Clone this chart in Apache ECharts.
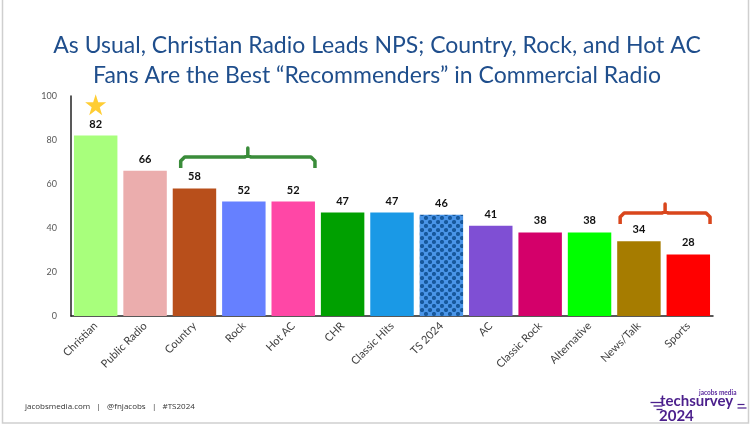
<!DOCTYPE html>
<html><head><meta charset="utf-8">
<script src="https://cdn.jsdelivr.net/npm/echarts@6/dist/echarts.min.js"></script>
<style>html,body{margin:0;padding:0;background:#fff}#c{width:754px;height:428px}</style>
</head><body><div id="c"></div>
<script>
const categories = ['Christian','Public Radio','Country','Rock','Hot AC','CHR','Classic Hits','TS 2024','AC','Classic Rock','Alternative','News/Talk','Sports'];
const npsValues = [82,66,58,52,52,47,47,46,41,38,38,34,28];
const barColors = ['#A8FF7C','#EBADAD','#B84F1B','#6680FF','#FF47A6','#00A000','#1A99E6',null,'#7F4FD4','#D4006A','#00FF00','#A67C00','#FF0000'];
const yTicks = {min:0, max:100, interval:20};
// brackets: [startCategory, endCategory, level value]
const brackets = [[2,4,72.3,'#3A8C3A'],[11,12,46.8,'#D9461C']];
const starPoint = [['Christian',96]];

const pat = document.createElement('canvas');
pat.width = 8; pat.height = 8;
const pc = pat.getContext('2d');
pc.fillStyle = '#4A95E8'; pc.fillRect(0,0,8,8);
pc.fillStyle = '#17589C';
pc.beginPath(); pc.arc(2,2,2.1,0,Math.PI*2); pc.fill();
pc.beginPath(); pc.arc(6,6,2.1,0,Math.PI*2); pc.fill();

const chart = echarts.init(document.getElementById('c'));
const starPath = 'path://M50,0 L61.8,35.4 L99,35.4 L69,57.3 L80.3,92.7 L50,70.8 L19.7,92.7 L31,57.3 L1,35.4 L38.2,35.4 Z';

chart.setOption({
  animation:false,
  textStyle:{fontFamily:'Lato, "Open Sans", sans-serif'},
  title:{
    text:'As Usual, Christian Radio Leads NPS; Country, Rock, and Hot AC\nFans Are the Best \u201cRecommenders\u201d in Commercial Radio',
    left:'center', top:26,
    textStyle:{color:'#1F4E8C', fontSize:23, fontWeight:'normal', lineHeight:30, fontFamily:'Lato, sans-serif'}
  },
  grid:{left:71, right:41, top:96, bottom:112},
  xAxis:{
    type:'category', data:categories,
    axisLine:{show:true, lineStyle:{color:'#222', width:1.5}},
    axisTick:{show:false},
    axisLabel:{rotate:45, fontSize:11, color:'#404040', margin:8, interval:0}
  },
  yAxis:{
    type:'value', min:yTicks.min, max:yTicks.max, interval:yTicks.interval,
    axisLine:{show:true, lineStyle:{color:'#222', width:1.5}},
    axisTick:{show:false}, splitLine:{show:false},
    axisLabel:{fontSize:9, color:'#595959', margin:14}
  },
  graphic:[
    {type:'rect', shape:{x:2.5,y:-2,width:746,height:425}, style:{fill:'none', stroke:'#CFCFCF', lineWidth:1.5}, silent:true},
    {type:'text', left:25, top:403, style:{text:'jacobsmedia.com   |   @fnjacobs   |   #TS2024', fontSize:8, fill:'#333', fontFamily:'"Open Sans", sans-serif'}},
    {type:'text', left:699, top:389, style:{text:'jacobs media', fontSize:6.5, fill:'#5B2A9E', fontWeight:'bold', fontFamily:'Lato, sans-serif'}},
    {type:'text', left:660, top:394, style:{text:'techsurvey', fontSize:15, fill:'#4B1F8C', fontWeight:'bold', fontFamily:'Lato, sans-serif'}},
    {type:'text', left:659, top:409, style:{text:'2024', fontSize:15, fill:'#4B1F8C', fontWeight:'bold', fontFamily:'Lato, sans-serif'}},
    {type:'group', left:648, top:400, children:[
      {type:'line', shape:{x1:0,y1:0,x2:12,y2:0}, style:{stroke:'#4B1F8C', lineWidth:1.3}},
      {type:'line', shape:{x1:3,y1:3.5,x2:12,y2:3.5}, style:{stroke:'#4B1F8C', lineWidth:1.3}},
      {type:'line', shape:{x1:6,y1:7,x2:12,y2:7}, style:{stroke:'#4B1F8C', lineWidth:1.3}}
    ]},
    {type:'group', left:735, top:402, children:[
      {type:'line', shape:{x1:0,y1:0,x2:7,y2:0}, style:{stroke:'#4B1F8C', lineWidth:1.2}},
      {type:'line', shape:{x1:0,y1:3.5,x2:9,y2:3.5}, style:{stroke:'#4B1F8C', lineWidth:1.2}}
    ]}
  ],
  series:[
    {
      type:'bar', barCategoryGap:'12%',
      data:npsValues.map((v,i)=>({value:v, itemStyle:{color: barColors[i] || {image:pat, repeat:'repeat'}}})),
      label:{show:true, position:'top', fontSize:11, fontWeight:'bold', color:'#111', distance:6}
    },
    {
      type:'scatter', data:starPoint, symbol:starPath, symbolSize:21,
      itemStyle:{color:'#FFC000'}, z:5
    },
    {
      type:'custom',
      data:brackets,
      renderItem:function(params, api){
        const b = brackets[params.dataIndex];
        const w = api.size([1,0])[0];
        const p0 = api.coord([b[0], b[2]]);
        const p1 = api.coord([b[1], b[2]]);
        const x0 = p0[0] - w*0.38 + (b[0]===2?5:0);
        const x1 = p1[0] + w*0.44;
        const y = p0[1];
        const xm = (x0+x1)/2;
        const h = 11, t = 9, r = 4;
        return {type:'polyline', shape:{points:[[x0,y+h],[x0,y+r],[x0+r,y],[xm-3,y],[xm,y-2],[xm,y-t],[xm,y-2],[xm+3,y],[x1-r,y],[x1,y+r],[x1,y+h]]},
          style:{stroke:b[3], lineWidth:3.5, fill:null, lineJoin:'round'}};
      }
    }
  ]
});
</script></body></html>
